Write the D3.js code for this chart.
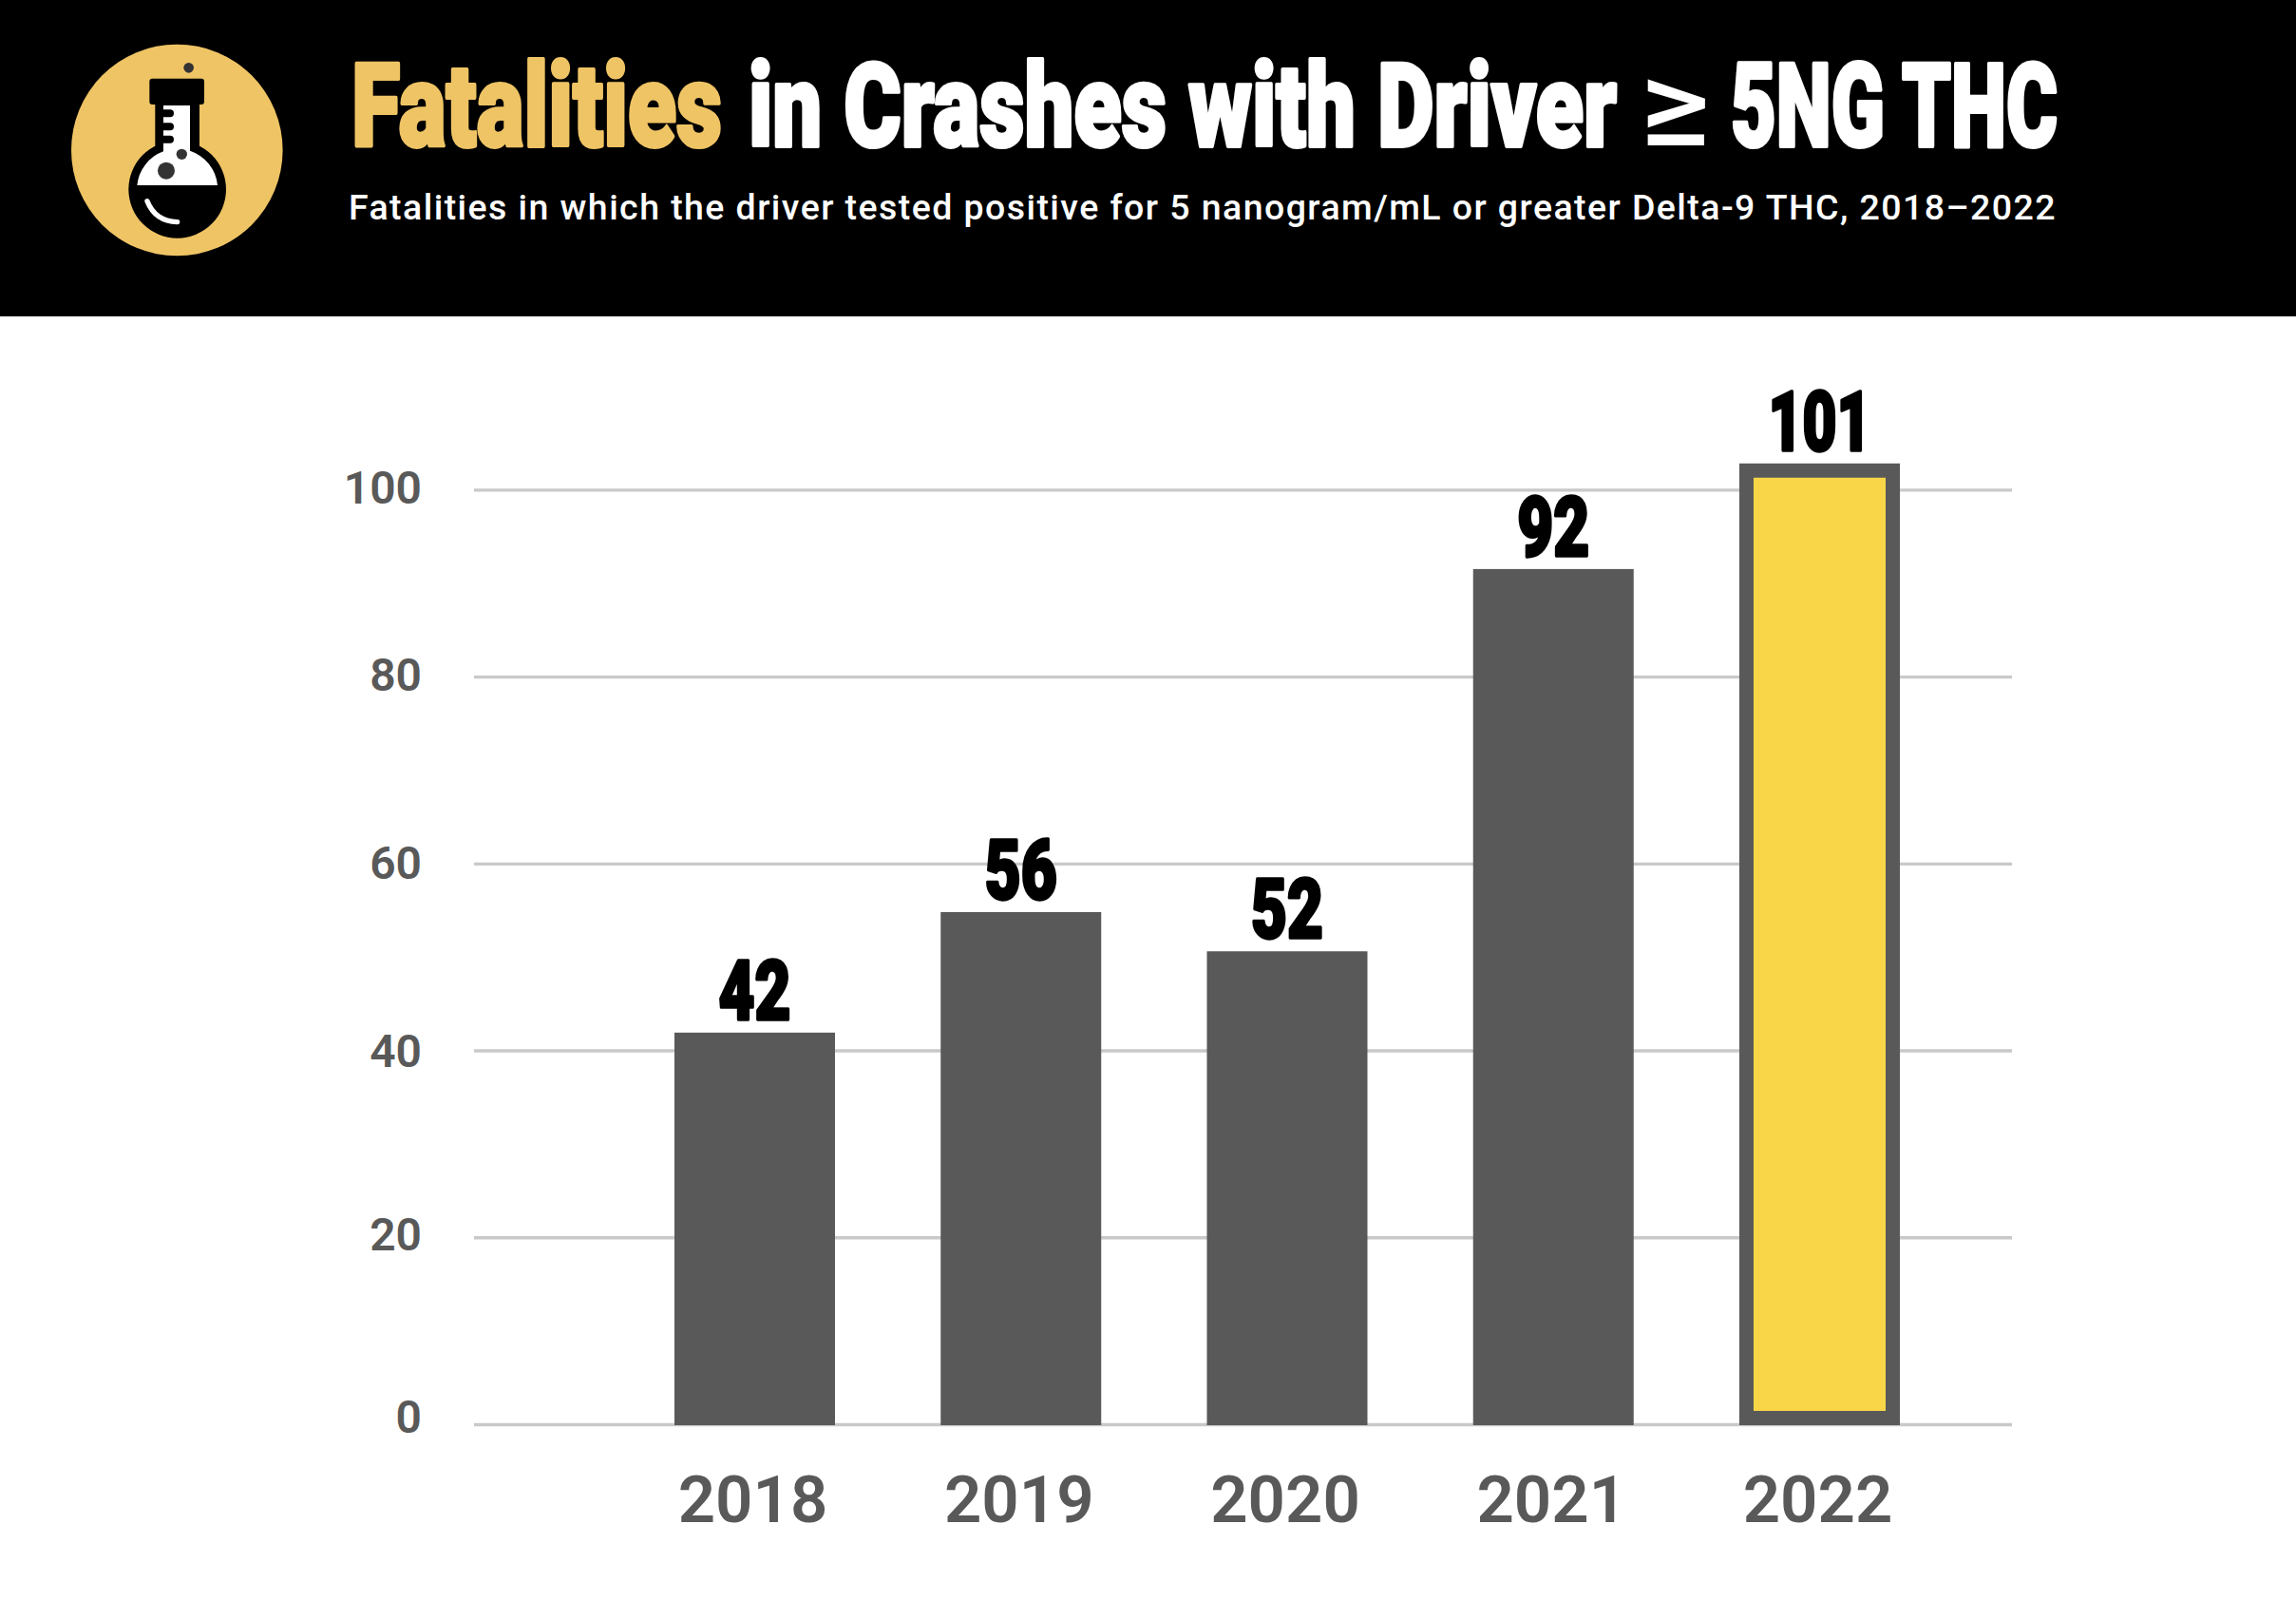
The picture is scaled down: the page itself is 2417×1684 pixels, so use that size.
<!DOCTYPE html>
<html>
<head>
<meta charset="utf-8">
<title>Fatalities in Crashes with Driver ≥ 5NG THC</title>
<script src="https://cdn.jsdelivr.net/npm/d3@7"></script>
<style>
    html, body { margin: 0; padding: 0; background: #fff; }
    svg { display: block; }
    .heavy { font-family: "Roboto"; font-weight: 900; stroke-linejoin: round; vector-effect: non-scaling-stroke; }
</style>
</head>
<body>
<svg id="chart" width="2417" height="1684"></svg>
<script>
var years = ["2018", "2019", "2020", "2021", "2022"];
// bar heights as read against the gridlines, they differ a bit from the printed labels
var barValues = [41.9, 54.8, 50.6, 91.5, 102.8];
var labelValues = ["42", "56", "52", "92", "101"];
var yTicks = [0, 20, 40, 60, 80, 100];

var gray = "#595959";
var gold = "#efc465";
var yellow = "#f8d648";

var svg = d3.select("#chart");

var x = d3.scaleBand()
    .domain(years)
    .range([710, 2000])
    .paddingInner(0.397)
    .paddingOuter(0);

var y = d3.scaleLinear()
    .domain([0, 100])
    .range([1499, 515.3]);

// squeeze a text to a width, no condensed black font is installed
var fitText = function(node, px, py, width)
{
    var scaleX = width / node.getComputedTextLength();
    d3.select(node)
        .attr("transform", "translate(" + px + "," + py + ") scale(" + scaleX + ",1)");
};

// header
var drawHeader = function()
{
    svg.append("rect")
        .attr("width", 2417)
        .attr("height", 333)
        .attr("fill", "#000");

    svg.append("circle")
        .attr("cx", 186.3)
        .attr("cy", 158)
        .attr("r", 111.3)
        .attr("fill", gold);

    // flask, drawn in the 3x units of the crop I measured it from
    var flask = svg.append("g")
        .attr("transform", "translate(60,30) scale(0.3333)");

    flask.append("circle").attr("cx", 416).attr("cy", 124).attr("r", 16).attr("fill", "#333");
    flask.append("circle").attr("cx", 380).attr("cy", 508).attr("r", 154).attr("fill", "#000");
    flask.append("rect").attr("x", 310).attr("y", 200).attr("width", 140).attr("height", 190).attr("fill", "#000");
    flask.append("rect").attr("x", 292).attr("y", 158).attr("width", 173).attr("height", 82).attr("rx", 9).attr("fill", "#000");
    flask.append("path")
        .attr("d", "M336 243 H420 V386 A128 128 0 0 1 507 495 H253 A128 128 0 0 1 336 388 Z")
        .attr("fill", "#fff");

    [268, 310, 350].forEach(function(tickY)
    {
        flask.append("rect")
            .attr("x", 326).attr("y", tickY - 12)
            .attr("width", 43).attr("height", 24)
            .attr("rx", 12).attr("fill", "#000");
    });

    flask.append("circle").attr("cx", 394).attr("cy", 397).attr("r", 17).attr("fill", "#333");
    flask.append("circle").attr("cx", 345).attr("cy", 449).attr("r", 27).attr("fill", "#333");
    flask.append("path")
        .attr("d", "M285 545 Q310 608 380 611")
        .attr("fill", "none")
        .attr("stroke", "#fff")
        .attr("stroke-width", 16)
        .attr("stroke-linecap", "round");

    var addPart = function(text, left, width, color)
    {
        var part = svg.append("text")
            .attr("class", "heavy")
            .attr("font-size", 122)
            .attr("fill", color)
            .attr("stroke", color)
            .attr("stroke-width", 3.5)
            .text(text);
        fitText(part.node(), left, 153.5, width);
    };

    addPart("Fatalities", 370, 390, gold);
    addPart("in Crashes with Driver", 788, 914, "#fff");
    addPart("5NG THC", 1822, 344, "#fff");

    var geq = svg.append("text")
        .attr("font-family", "Roboto")
        .attr("font-weight", 500)
        .attr("font-size", 128)
        .attr("fill", "#fff")
        .text("≥");
    fitText(geq.node(), 1726, 153, 74);

    var subtitle = svg.append("text")
        .attr("x", 367)
        .attr("y", 231)
        .attr("font-family", "Roboto")
        .attr("font-weight", 500)
        .attr("font-size", 37.5)
        .attr("fill", "#fff")
        .text("Fatalities in which the driver tested positive for 5 nanogram/mL or greater Delta-9 THC, 2018–2022");

    var natural = subtitle.node().getComputedTextLength();
    subtitle.attr("letter-spacing", (1798 - natural) / subtitle.text().length);
};

var drawAxes = function()
{
    var yAxis = d3.axisLeft(y)
        .tickValues(yTicks)
        .tickSizeInner(-1619)
        .tickSizeOuter(0)
        .tickPadding(55);

    var yGroup = svg.append("g")
        .attr("transform", "translate(499,0)")
        .call(yAxis);

    yGroup.select(".domain").remove();
    yGroup.selectAll("line")
        .attr("stroke", "#c9c9c9")
        .attr("stroke-width", 3.3);

    // the labels in the reference were nudged by hand, not all the same
    var labelShift = { 0: -7, 20: -2, 40: 2, 60: 0, 80: -1, 100: -1 };

    yGroup.selectAll("text")
        .attr("font-family", "Roboto")
        .attr("font-weight", 600)
        .attr("font-size", 48)
        .attr("fill", gray)
        .attr("transform", function(d)
        {
            return "translate(0," + labelShift[d] + ")";
        });

    var xAxis = d3.axisBottom(x)
        .tickSize(0)
        .tickPadding(103);

    var xGroup = svg.append("g")
        .attr("transform", "translate(-2,1499)")
        .call(xAxis);

    xGroup.select(".domain").remove();
    xGroup.selectAll("text")
        .attr("font-family", "Roboto")
        .attr("font-weight", 600)
        .attr("font-size", 69)
        .attr("fill", gray)
        .attr("dy", "0");
};

var drawBars = function()
{
    var isLast = function(d, i) { return i == years.length - 1; };

    svg.append("g")
        .selectAll("rect")
        .data(barValues)
        .enter()
        .append("rect")
        .attr("x", function(d, i)
        {
            return isLast(d, i) ? x(years[i]) + 7.5 : x(years[i]);
        })
        .attr("y", function(d, i)
        {
            return isLast(d, i) ? y(d) + 7.5 : y(d);
        })
        .attr("width", function(d, i)
        {
            return isLast(d, i) ? x.bandwidth() - 15 : x.bandwidth();
        })
        .attr("height", function(d, i)
        {
            return isLast(d, i) ? y(0) - y(d) - 14 : y(0) - y(d) + 1;
        })
        .attr("fill", function(d, i) { return isLast(d, i) ? yellow : gray; })
        .attr("stroke", function(d, i) { return isLast(d, i) ? gray : "none"; })
        .attr("stroke-width", function(d, i) { return isLast(d, i) ? 15 : 0; });

    svg.append("g")
        .selectAll("text")
        .data(labelValues)
        .enter()
        .append("text")
        .attr("class", "heavy")
        .attr("text-anchor", "middle")
        .attr("font-size", 88)
        .attr("fill", "#000")
        .attr("stroke", "#000")
        .attr("stroke-width", 3)
        .text(function(d) { return d; })
        .each(function(d, i)
        {
            fitText(this,
                x(years[i]) + x.bandwidth() / 2,
                y(barValues[i]) - 14,
                d.length == 3 ? 108 : 76);
        });
};

drawHeader();
drawAxes();
drawBars();
</script>
</body>
</html>
